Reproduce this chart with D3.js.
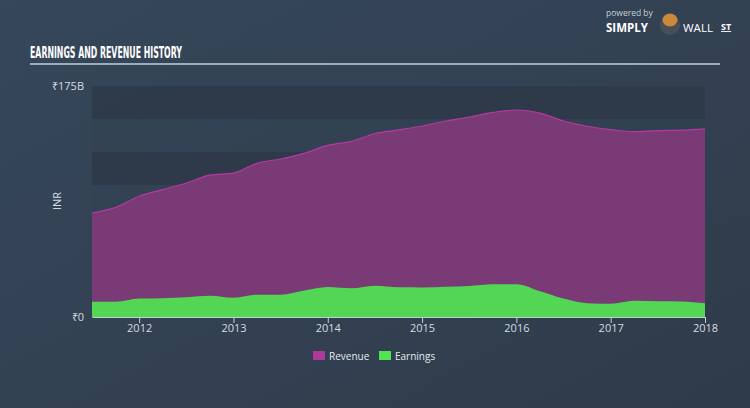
<!DOCTYPE html>
<html>
<head>
<meta charset="utf-8">
<script src="https://d3js.org/d3.v7.min.js"></script>
<style>
  body { margin: 0; background: #323f4f; }
  svg { display: block; }
</style>
</head>
<body>
<svg width="750" height="408"></svg>
<script>
  // quarterly points, billions of INR
  var dates = [2011.5, 2011.75, 2012, 2012.25, 2012.5, 2012.75, 2013, 2013.25, 2013.5, 2013.75,
    2014, 2014.25, 2014.5, 2014.75, 2015, 2015.25, 2015.5, 2015.75, 2016, 2016.25,
    2016.5, 2016.75, 2017, 2017.25, 2017.5, 2017.75, 2018];
  var revenue = [78.8, 83, 91.5, 96.5, 101.5, 107.5, 109, 116.5, 119.7, 124,
    130, 133, 139, 141.7, 144.7, 148.5, 151.5, 155, 156.8, 154.5,
    148.5, 144.5, 142, 140.5, 141.2, 141.5, 142.5];
  var earnings = [11.6, 11.6, 14, 14.2, 15, 16.1, 14.6, 16.9, 16.9, 20,
    22.7, 21.7, 23.7, 22.5, 22.4, 23, 23.5, 24.8, 24.8, 19.5,
    14, 10.5, 10.1, 12.3, 12, 11.8, 10.4];
  var yearTicks = [2012, 2013, 2014, 2015, 2016, 2017, 2018];
  var yTicks = [0, 175];

  var svg = d3.select("svg");

  var defs = svg.append("defs");
  var bg = defs.append("linearGradient").attr("id", "bg")
    .attr("x1", "0").attr("y1", "0").attr("x2", "1").attr("y2", "1");
  bg.append("stop").attr("offset", "0").attr("stop-color", "#36475b");
  bg.append("stop").attr("offset", "1").attr("stop-color", "#2f3b4a");
  svg.append("rect").attr("width", 750).attr("height", 408).attr("fill", "url(#bg)");

  // header
  svg.append("text").attr("x", 30).attr("y", 58)
    .style("font", "bold 15px 'DejaVu Sans Condensed', sans-serif")
    .attr("fill", "#ffffff")
    .attr("transform", "translate(30,0) scale(0.58,1) translate(-30,0)")
    .text("EARNINGS AND REVENUE HISTORY");
  svg.append("line").attr("x1", 30).attr("x2", 720).attr("y1", 64).attr("y2", 64)
    .attr("stroke", "#c5ced8").attr("stroke-width", 1.5);

  // logo
  svg.append("text").attr("x", 606).attr("y", 16)
    .style("font", "8.5px 'Open Sans', sans-serif").attr("fill", "#c8d0d8").text("powered by");
  svg.append("text").attr("x", 606).attr("y", 32)
    .style("font", "bold 11.5px 'Open Sans', sans-serif").attr("fill", "#ffffff").text("SIMPLY");
  svg.append("circle").attr("cx", 670).attr("cy", 25).attr("r", 10).attr("fill", "#4a4f57");
  svg.append("ellipse").attr("cx", 670).attr("cy", 20).attr("rx", 7.5).attr("ry", 6.5).attr("fill", "#c98a3a");
  svg.append("text").attr("x", 683).attr("y", 32)
    .style("font", "11.5px 'Open Sans', sans-serif").attr("fill", "#ffffff").text("WALL");
  svg.append("text").attr("x", 721).attr("y", 30)
    .style("font", "bold 9px 'Open Sans', sans-serif").attr("fill", "#ffffff")
    .attr("text-decoration", "underline").text("ST");

  var margin = { top: 86, left: 92 },
    width = 613, height = 231;
  var g = svg.append("g").attr("transform", "translate(" + margin.left + "," + margin.top + ")");

  var x = d3.scaleLinear().domain([2011.5, 2018]).range([0, width]);
  var y = d3.scaleLinear().domain([0, 175]).range([height, 0]);

  // alternating bands every 25B
  var bands = d3.range(0, 175, 25);
  g.selectAll(".band").data(bands).enter().append("rect")
    .attr("x", 0).attr("width", width)
    .attr("y", function (d) { return y(d + 25); })
    .attr("height", function (d) { return y(d) - y(d + 25); })
    .attr("fill", function (d, i) { return (i % 2 === 0) ? "#2d3a49" : "#33424f"; })
    .attr("fill-opacity", function (d, i) { return (i % 2 === 0) ? 0.9 : 0.3; });

  var rows = dates.map(function (d, i) { return { date: d, rev: revenue[i], earn: earnings[i] }; });

  var curve = d3.curveMonotoneX;
  var revArea = d3.area().curve(curve)
    .x(function (d) { return x(d.date); })
    .y0(height).y1(function (d) { return y(d.rev); });
  var revLine = d3.line().curve(curve)
    .x(function (d) { return x(d.date); })
    .y(function (d) { return y(d.rev); });
  var earnArea = d3.area().curve(curve)
    .x(function (d) { return x(d.date); })
    .y0(height).y1(function (d) { return y(d.earn); });

  g.append("path").attr("d", revArea(rows)).attr("fill", "#7a3a75");
  g.append("path").attr("d", revLine(rows)).attr("fill", "none")
    .attr("stroke", "#b23aa0").attr("stroke-width", 1.2);
  g.append("path").attr("d", earnArea(rows)).attr("fill", "#52d654");

  // x axis
  var xAxis = g.append("g").attr("transform", "translate(0," + height + ")")
    .call(d3.axisBottom(x).tickValues(yearTicks).tickFormat(d3.format("d")).tickSize(6).tickSizeOuter(0));
  xAxis.select(".domain").attr("stroke", "#c5ced8").attr("stroke-width", 1.2);
  xAxis.selectAll(".tick line").attr("stroke", "#c5ced8");
  xAxis.selectAll(".tick text").attr("fill", "#d5dbe1").attr("dy", "0.5em")
    .style("font", "11px 'Open Sans', sans-serif");

  // y labels
  g.selectAll(".ylab").data(yTicks).enter().append("text")
    .attr("x", -8).attr("y", function (d) { return y(d) + 4; })
    .attr("text-anchor", "end").attr("fill", "#d5dbe1")
    .style("font", "11px 'Open Sans', sans-serif")
    .text(function (d) { return d === 0 ? "₹0" : "₹" + d + "B"; });

  svg.append("text").attr("transform", "translate(61,201) rotate(-90)")
    .attr("text-anchor", "middle").attr("fill", "#d5dbe1")
    .style("font", "11px 'Open Sans', sans-serif").text("INR");

  // legend
  var legend = [{ name: "Revenue", color: "#b0379b" }, { name: "Earnings", color: "#52e352" }];
  var lg = svg.selectAll(".leg").data(legend).enter().append("g")
    .attr("transform", function (d, i) { return "translate(" + (313 + i * 66) + ",351)"; });
  lg.append("rect").attr("width", 12).attr("height", 9).attr("fill", function (d) { return d.color; });
  lg.append("text").attr("x", 16).attr("y", 8.5).attr("fill", "#e6eaee")
    .style("font", "10px 'Open Sans', sans-serif").text(function (d) { return d.name; });
</script>
</body>
</html>
